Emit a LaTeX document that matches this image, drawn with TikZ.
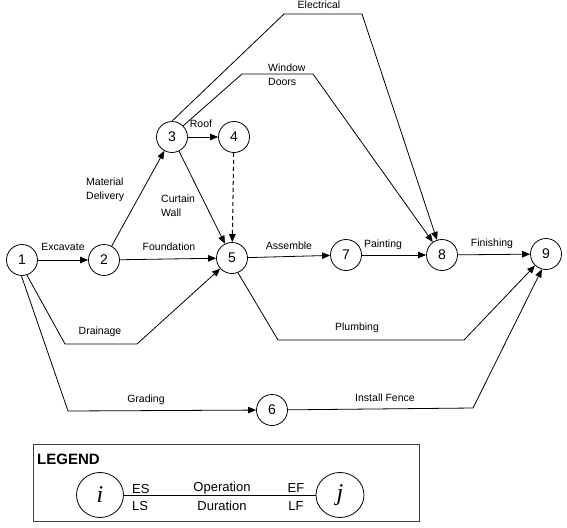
\documentclass[tikz,border=0pt]{standalone}
\usepackage{fontspec}
\setmainfont{Liberation Sans}
\newfontfamily\legserif{Liberation Serif}
\usetikzlibrary{arrows.meta,shapes.geometric}
\begin{document}
\begin{tikzpicture}[x=1pt,y=-1pt,
  ev/.style={circle, draw, line width=0.8pt, minimum size=31pt, inner sep=0pt, font=\fontsize{14}{14}\selectfont},
  lbl/.style={inner sep=0pt, font=\fontsize{10.5}{14}\selectfont},
  leglbl/.style={inner sep=0pt, font=\fontsize{13}{13}\selectfont},
  arr/.style={line width=0.8pt, -{Triangle[length=8pt,width=6.5pt]}},
  ln/.style={line width=0.8pt},
  dsh/.style={line width=1pt, dash pattern=on 4pt off 3pt, -{Triangle[length=8pt,width=6.5pt]}}
]
\useasboundingbox (0,0) rectangle (567,527);
% events
\node[ev] (n1) at (22,260) {1};
\node[ev] (n2) at (104,260) {2};
\node[ev] (n3) at (172,137) {3};
\node[ev] (n4) at (234,137) {4};
\node[ev] (n5) at (232,258) {5};
\node[ev] (n6) at (272,410) {6};
\node[ev] (n7) at (346,255) {7};
\node[ev] (n8) at (442,255) {8};
\node[ev] (n9) at (546,254) {9};
% bend coordinates
\coordinate (eA) at (284,14);
\coordinate (eB) at (362,14);
\coordinate (wA) at (242,74);
\coordinate (wB) at (313,74);
\coordinate (dA) at (65,344);
\coordinate (dB) at (137,344);
\coordinate (gA) at (68,411);
\coordinate (pA) at (278,340);
\coordinate (pB) at (464,340);
\coordinate (fA) at (473,408);
% activities
\draw[arr] (n1) -- (n2);
\draw[arr] (n2) -- (n3);
\draw[arr] (n3) -- (n4);
\draw[arr] (n3) -- (n5);
\draw[dsh] (n4) -- (n5);
\draw[arr] (n2) -- (n5);
\draw[arr] (n1.-72) -- (dA) -- (dB) -- (n5);
\draw[arr] (n1.-92) -- (gA) -- (n6);
\draw[arr] (n6) -- (fA) -- (n9.-105);
\draw[arr] (n5.-68) -- (pA) -- (pB) -- (n9);
\draw[arr] (n5) -- (n7);
\draw[arr] (n7) -- (n8);
\draw[arr] (n8) -- (n9);
\draw[arr] (n3.north) -- (eA) -- (eB) -- (n8);
\draw[arr] (n3.45) -- (wA) -- (wB) -- (n8);
% labels
\node[lbl] (lExc) at (63,247) {Excavate};
\node[lbl] (lFou) at (169,247) {Foundation};
\node[lbl, align=left, anchor=west] (lMat) at (86,190) {Material\\Delivery};
\node[lbl, align=left, anchor=west] (lCur) at (161,206) {Curtain\\Wall};
\node[lbl] (lRoof) at (201,124) {Roof};
\node[lbl, align=left, anchor=west] (lWin) at (268,75) {Window\\Doors};
\node[lbl] (lEle) at (319,5) {Electrical};
\node[lbl] (lAss) at (289,246) {Assemble};
\node[lbl] (lPai) at (383,245) {Painting};
\node[lbl] (lFin) at (492,244) {Finishing};
\node[lbl] (lDra) at (100,332) {Drainage};
\node[lbl] (lPlu) at (357,328) {Plumbing};
\node[lbl] (lGra) at (146,400) {Grading};
\node[lbl] (lIns) at (385,398) {Install Fence};
% legend
\draw[line width=0.9pt, draw=black!75] (33,444) rectangle (419,521);
\node[inner sep=0pt, anchor=west, font=\fontsize{15}{15}\selectfont\bfseries] (lLeg) at (37,459) {LEGEND};
\node[ellipse, draw, line width=0.8pt, minimum width=47pt, minimum height=45pt, inner sep=0pt, font=\fontsize{24}{24}\legserif\itshape] (li) at (100,495) {i};
\node[ellipse, draw, line width=0.8pt, minimum width=48pt, minimum height=45pt, inner sep=0pt, font=\fontsize{24}{24}\legserif\itshape] (lj) at (340,495) {j};
\draw[ln] (li) -- (lj);
\node[leglbl, anchor=west] (lES) at (132,489) {ES};
\node[leglbl, anchor=west] (lLS) at (132,506) {LS};
\node[leglbl] (lOp) at (222,488) {Operation};
\node[leglbl] (lDu) at (222,506) {Duration};
\node[leglbl] (lEF) at (296,488) {EF};
\node[leglbl] (lLF) at (296,506) {LF};
\end{tikzpicture}
\end{document}
